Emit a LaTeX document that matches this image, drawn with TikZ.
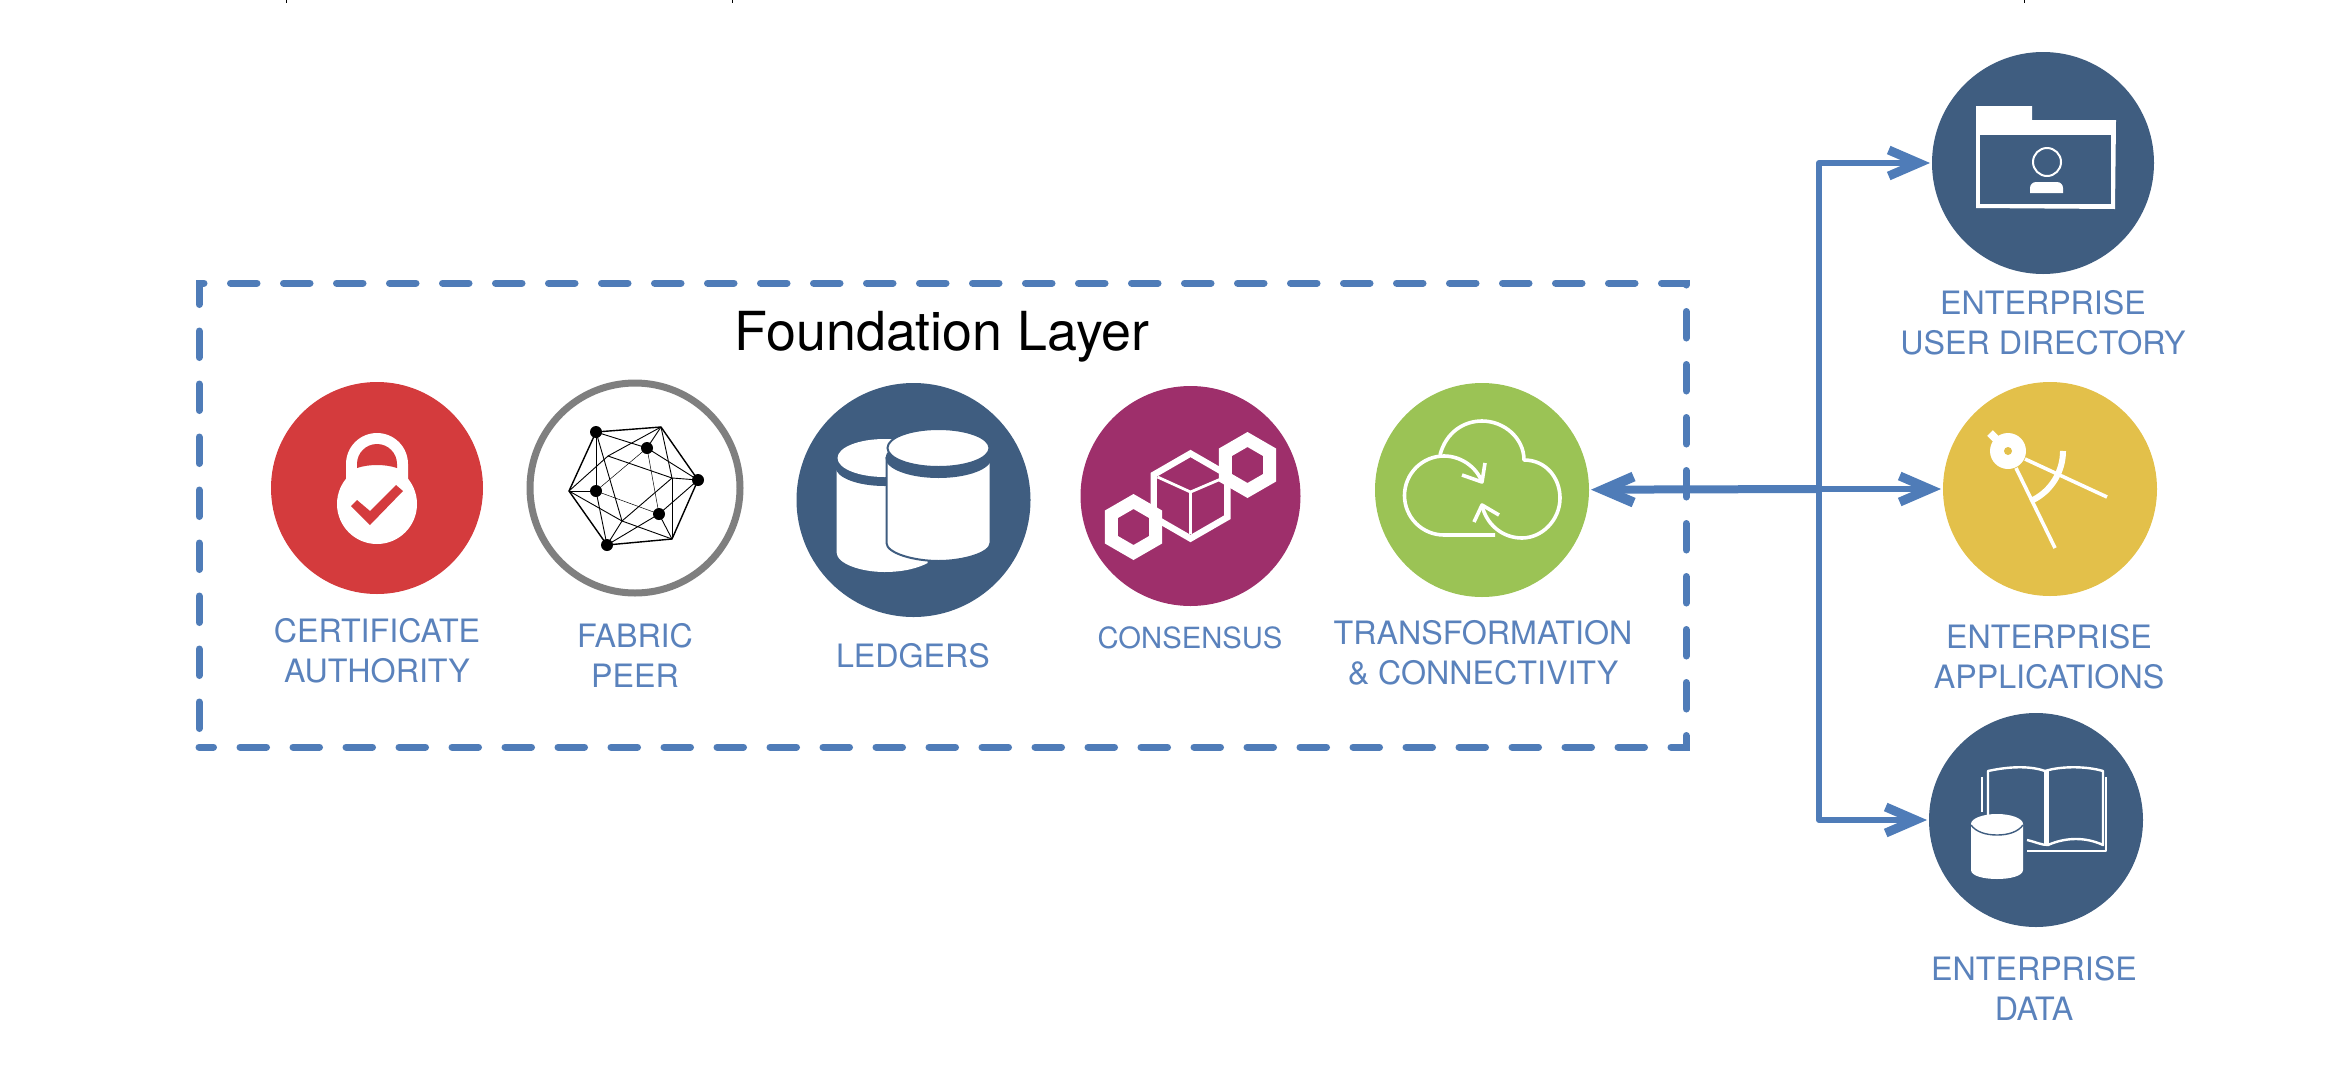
\documentclass[tikz,border=0pt]{standalone}
\usepackage{fontspec}
\setmainfont{TeX Gyre Heros}
\usetikzlibrary{arrows.meta,shapes.geometric}
\definecolor{navy}{HTML}{3F5D80}
\definecolor{lockred}{HTML}{D43B3D}
\definecolor{ringgray}{HTML}{7F7F7F}
\definecolor{plum}{HTML}{9E2F6B}
\definecolor{leaf}{HTML}{9BC355}
\definecolor{gold}{HTML}{E3C04A}
\definecolor{linkblue}{HTML}{4F7CB8}
\definecolor{labelblue}{HTML}{5A82BC}
\tikzset{
	disc/.style={ellipse, inner sep=0pt, outer sep=0pt},
	caption/.style={text=labelblue, font=\fontsize{16.1}{20}\selectfont, align=center, inner sep=0pt},
	link/.style={draw=linkblue, line width=3pt, line join=round, -{Straight Barb[length=15pt,width=13pt,line width=4.5pt]}, shorten >=1pt},
	icon/.style={draw=white, line width=1.8pt, line join=round},
	hexring/.style={draw=white, line join=miter},
	tick/.style={draw=black, line width=0.5pt}
}
\newcommand{\hexpath}[3]{(#1,#2)++(90:#3) -- ++(-30:#3) -- ++(-90:#3) -- ++(-150:#3) -- ++(150:#3) -- ++(90:#3) -- cycle}
\begin{document}
\begin{tikzpicture}[x=0.5pt, y=0.5pt]
	\useasboundingbox (0,0) rectangle (2352,-1077);
	% marks on the upper edge
	\foreach \x in {286,732,2024}
	\draw[tick] (\x,0) -- (\x,-3);
	% foundation layer
	\node[draw=linkblue, line width=3.5pt, line cap=round, dash pattern=on 13.25pt off 13.25pt, dash phase=6pt, minimum width=743.5pt, minimum height=232pt, inner sep=0pt] (layer) at (942.5,-515) {};
	\node[font=\fontsize{26.9}{30}\selectfont, inner sep=0pt] (title) at (942,-337) {Foundation Layer};
	% discs
	\node[disc, fill=lockred, minimum width=106pt, minimum height=106pt] (authority) at (377,-488) {};
	\node[disc, draw=ringgray, line width=3.5pt, fill=white, minimum width=105pt, minimum height=105pt] (peer) at (635,-488) {};
	\node[disc, fill=navy, minimum width=117pt, minimum height=117pt] (ledgers) at (913.5,-500) {};
	\node[disc, fill=plum, minimum width=110pt, minimum height=110pt] (consensus) at (1190.5,-496) {};
	\node[disc, fill=leaf, minimum width=107pt, minimum height=107pt] (transform) at (1482,-490) {};
	\node[disc, fill=navy, minimum width=111pt, minimum height=111pt] (directory) at (2043,-163) {};
	\node[disc, fill=gold, minimum width=107pt, minimum height=107pt] (apps) at (2050,-489) {};
	\node[disc, fill=navy, minimum width=107pt, minimum height=107pt] (data) at (2036,-820) {};
	% captions
	\node[caption] (authoritytext) at (377,-651) {CERTIFICATE\\AUTHORITY};
	\node[caption] (peertext) at (635,-655) {FABRIC\\PEER};
	\node[caption] (ledgerstext) at (913,-656) {LEDGERS};
	\node[caption, font=\fontsize{14.6}{20}\selectfont] (consensustext) at (1190,-638) {CONSENSUS};
	\node[caption] (transformtext) at (1483,-653) {TRANSFORMATION\\\&~CONNECTIVITY};
	\node[caption] (directorytext) at (2043,-323) {ENTERPRISE\\USER DIRECTORY};
	\node[caption] (appstext) at (2049,-657) {ENTERPRISE\\APPLICATIONS};
	\node[caption] (datatext) at (2034,-988) {ENTERPRISE\\DATA};
	% connectors
	\coordinate (hub) at (1819,-489);
	\draw[link] (hub) |- (directory);
	\draw[link] (hub) |- (data);
	\draw[link] (hub) -- (apps);
	\draw[draw=linkblue, line width=4pt, -{Straight Barb[length=15pt,width=13pt,line width=5pt]}, shorten >=1pt] (hub) -- (transform);
	% lock
	\begin{scope}[shift={(authority)}]
		\fill[white] (-31,5) -- (-31,24) arc (180:0:31) -- (31,5) -- cycle;
		\fill[white] (0,-16) circle (40);
		\fill[lockred] (-20,20) -- (-20,24) arc (180:0:20) -- (20,20) .. controls (8,24) and (-8,24) .. (-20,20) -- cycle;
		\fill[lockred] (-26,-18) -- (-7,-37) -- (26,-3) -- (19,3) -- (-7,-23) -- (-20,-12) -- cycle;
	\end{scope}
	% peer graph
	\begin{scope}[shift={(peer)}]
		\path (-39,56) coordinate (P1) (26,61) coordinate (P2) (63,8) coordinate (P3)
		(37,-51) coordinate (P4) (-28,-57) coordinate (P5) (-66,-3) coordinate (P6)
		(12,40) coordinate (Q1) (-39,-3) coordinate (Q2) (24,-26) coordinate (Q3)
		(-27,32) coordinate (Q4) (37,10) coordinate (Q5) (-13,-33) coordinate (Q6);
		\draw[line width=0.7pt, line join=round] (P1)--(P2)--(P3)--(P4)--(P5)--(P6)--cycle;
		\foreach \a/\b in {P1/Q2,P1/Q1,P1/Q6,P2/Q4,P2/Q1,P2/Q5,P3/Q1,P3/Q5,P3/Q3,P4/Q5,P4/Q3,P4/Q6,P5/Q6,P5/Q3,P5/Q2,P6/Q2,P6/Q4,P6/Q6,Q4/Q5,Q5/Q6}
		\draw[line width=0.45pt] (\a)--(\b);
		\foreach \a/\b in {Q1/Q2,Q2/Q3,Q3/Q1}
		\draw[line width=0.25pt] (\a)--(\b);
		\foreach \a in {P1,P3,P5,Q1,Q2,Q3}
		\fill (\a) circle (6);
	\end{scope}
	% ledgers
	\begin{scope}[shift={(ledgers)}]
		\fill[white] (-77,34) -- (-77,-52) .. controls (-77,-64) and (-52,-72) .. (-29,-72) .. controls (-10,-72) and (5,-68) .. (14,-63) -- (18,34) -- cycle;
		\fill[navy] (-29,33) ellipse (49 and 19);
		\fill[white] (-29,42) ellipse (47 and 19);
		\fill[white, draw=navy, line width=1pt] (-27,42) -- (-27,-43) .. controls (-27,-53) and (0,-61) .. (25,-61) .. controls (50,-61) and (77,-53) .. (77,-43) -- (77,42) -- cycle;
		\fill[navy] (25,42) ellipse (53 and 20);
		\fill[white, draw=navy, line width=1pt] (25,52) ellipse (51 and 19);
	\end{scope}
	% consensus
	\begin{scope}[shift={(consensus)}]
		\draw[hexring, line width=6.5pt] \hexpath{57}{31}{25.5};
		\draw[hexring, line width=6.5pt] \hexpath{-57}{-31}{25.5};
		\draw[hexring, line width=3.2pt] \hexpath{0}{0}{42.5};
		\draw[icon, line width=1.4pt] (-33,19) -- (0,4) -- (35,19) (0,4) -- (0,-38);
	\end{scope}
	% cloud
	\begin{scope}[shift={(transform)}]
		\draw[icon] (0,8) .. controls (-6,24) and (-22,34) .. (-38,34) arc (90:270:39.5) -- (13,-45);
		\draw[icon] (-42,35) .. controls (-36,58) and (-18,69) .. (0,69) .. controls (22,69) and (42,52) .. (42,30)
		.. controls (64,30) and (78,12) .. (78,-8) .. controls (78,-30) and (60,-48) .. (40,-48) .. controls (20,-48) and (4,-34) .. (0,-15);
		\draw[icon] (-20,15) -- (0,8) -- (3,27) (-8,-32) -- (0,-15) -- (17,-25);
	\end{scope}
	% folder
	\begin{scope}[shift={(directory)}]
		\fill[white] (-67,57) -- (-11,57) -- (-11,43) -- (73,43) -- (72,-46) -- (-67,-45) -- cycle;
		\fill[navy] (-63,28) rectangle (68,-41);
		\draw[draw=white, line width=1pt] (4,1) circle (14);
		\fill[white] (-13,-30) {[rounded corners=3pt] -- (-13,-19) -- (20,-19)} -- (20,-30) -- cycle;
	\end{scope}
	% compass
	\begin{scope}[shift={(apps)}]
		\draw[white, line width=4pt] (-60,56) -- (-46,42);
		\fill[white] (-42,38) circle (18);
		\fill[gold] (-42,38) circle (4);
		\draw[icon] (-25,30) -- (57,-8) (-34,21) -- (5,-59);
		\draw[white, line width=3pt] (13,38) arc (0:-63:55);
	\end{scope}
	% book and drum
	\begin{scope}[shift={(data)}]
		\draw[icon, line width=1.2pt] (-48,-5) -- (-48,49) .. controls (-25,54) and (-5,54) .. (9,49) .. controls (25,54) and (50,54) .. (67,49) -- (67,-25)
		.. controls (50,-17) and (30,-17) .. (12,-25) .. controls (5,-25) and (0,-22) .. (-9,-20);
		\draw[icon, line width=1.2pt] (-54,8) -- (-54,43) (70,43) -- (70,-31) -- (-9,-31);
		\draw[white, line width=2.5pt] (10,49) -- (10,-25);
		\fill[white] (-65,-4) -- (-65,-50) .. controls (-65,-56) and (-52,-59) .. (-39,-59) .. controls (-26,-59) and (-13,-56) .. (-13,-50) -- (-13,-4) -- cycle;
		\fill[white] (-39,-4) ellipse (26 and 10);
		\draw[navy, line width=0.7pt] (-65,-5) .. controls (-60,-12) and (-50,-15) .. (-39,-15) .. controls (-28,-15) and (-18,-12) .. (-13,-5);
	\end{scope}
\end{tikzpicture}
\end{document}
